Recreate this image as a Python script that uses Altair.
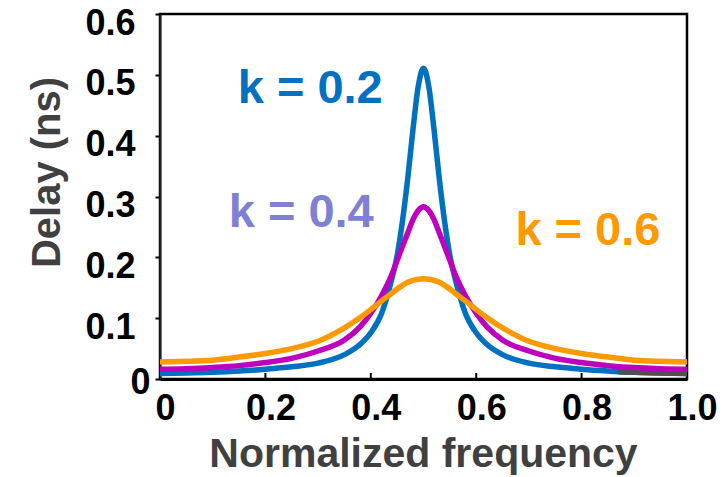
import altair as alt
import pandas as pd

# ---- data ----
freq = [0, 0.05, 0.1, 0.15, 0.2, 0.25, 0.3, 0.35, 0.38, 0.4, 0.42, 0.44, 0.45, 0.46,
        0.47, 0.48, 0.49, 0.5, 0.51, 0.52, 0.53, 0.54, 0.55, 0.56, 0.58, 0.6, 0.62,
        0.65, 0.7, 0.75, 0.8, 0.85, 0.87, 0.9, 0.95, 1.0]

delay_k02 = [0.009, 0.010, 0.011, 0.013, 0.016, 0.020, 0.026, 0.040, 0.057, 0.076,
             0.107, 0.165, 0.203, 0.259, 0.329, 0.410, 0.481, 0.511,
             0.481, 0.410, 0.329, 0.259, 0.203, 0.165, 0.107, 0.076, 0.057, 0.040,
             0.026, 0.020, 0.016, 0.013, 0.012, 0.011, 0.010, 0.009]

delay_k04 = [0.016, 0.017, 0.019, 0.022, 0.027, 0.034, 0.046, 0.064, 0.086, 0.108,
             0.136, 0.172, 0.195, 0.218, 0.240, 0.262, 0.277, 0.283,
             0.277, 0.262, 0.240, 0.218, 0.195, 0.172, 0.136, 0.108, 0.086, 0.064,
             0.046, 0.034, 0.027, 0.022, 0.020, 0.019, 0.017, 0.016]

delay_k06 = [0.028, 0.029, 0.031, 0.036, 0.042, 0.050, 0.062, 0.084, 0.101, 0.114,
             0.128, 0.141, 0.148, 0.154, 0.159, 0.162, 0.164, 0.165,
             0.164, 0.162, 0.159, 0.154, 0.148, 0.141, 0.128, 0.114, 0.101, 0.084,
             0.062, 0.050, 0.042, 0.036, 0.034, 0.031, 0.029, 0.028]

series_names = ["k = 0.2", "k = 0.4", "k = 0.6"]
series_colors = ["#0070C0", "#BE00BE", "#FF9900"]
label_colors = ["#0070C0", "#7F7FD5", "#FF9900"]

# annotation anchors (data coordinates)
label_x = [0.285, 0.268, 0.812]
label_y = [0.454, 0.250, 0.221]

x_ticks = [0, 0.2, 0.4, 0.6, 0.8, 1.0]
y_ticks = [0, 0.1, 0.2, 0.3, 0.4, 0.5, 0.6]
inner_ticks = [0.2, 0.4, 0.6, 0.8]

df = pd.DataFrame({
    "freq": freq * 3,
    "delay": delay_k02 + delay_k04 + delay_k06,
    "series": [series_names[0]] * len(freq) + [series_names[1]] * len(freq)
              + [series_names[2]] * len(freq),
})
ann = pd.DataFrame({"freq": label_x, "delay": label_y, "text": series_names,
                    "color": label_colors})
tickdf = pd.DataFrame({"freq": inner_ticks})

FONT = "Liberation Sans"
W, H = 527, 365

xenc = alt.X(
    "freq:Q",
    scale=alt.Scale(domain=[0, 1], nice=False, zero=False),
    axis=alt.Axis(
        values=x_ticks,
        labelExpr="datum.value == 0 ? '0' : format(datum.value, '.1f')",
        ticks=False, grid=False,
        domainColor="black", domainWidth=3,
        labelFont=FONT, labelFontSize=36, labelFontWeight="bold", labelColor="black",
        labelPadding=12, labelOffset=5, labelAlign="center", labelBaseline="top",
        labelFlush=False, labelOverlap=False,
        title="Normalized frequency",
        titleFont=FONT, titleFontSize=41, titleFontWeight="bold", titleColor="#404040",
        titleX=263, titleY=87, titleAlign="center", titleBaseline="alphabetic",
    ),
)
yenc = alt.Y(
    "delay:Q",
    scale=alt.Scale(domain=[0, 0.6], nice=False),
    axis=alt.Axis(
        values=y_ticks,
        labelExpr="datum.value == 0 ? '0' : format(datum.value, '.1f')",
        grid=False, ticks=True, tickSize=5, tickColor="black", tickWidth=2,
        domainColor="#222222", domainWidth=2,
        labelFont=FONT, labelFontSize=36, labelFontWeight="bold", labelColor="black",
        labelPadding={"condition": {"test": "datum.value == 0", "value": 5}, "value": 20},
        labelOffset={"condition": {"test": "datum.value == 0", "value": 3}, "value": 9},
        labelAlign="right", labelBaseline="middle",
        labelFlush=False, labelOverlap=False,
        title="Delay (ns)",
        titleFont=FONT, titleFontSize=40, titleFontWeight="bold", titleColor="#404040",
        titleAngle=-90, titleX=-101, titleY=158, titleAlign="center",
        titleBaseline="alphabetic",
    ),
)

layers = []
for name, col in zip(series_names, series_colors):
    layers.append(
        alt.Chart(df).transform_filter(alt.datum.series == name)
        .mark_line(strokeWidth=5.5, color=col, interpolate="monotone", strokeCap="butt")
        .encode(x=xenc, y=yenc)
    )
    if name == series_names[0]:
        # dark-grey tail at the far right of the k = 0.2 curve
        layers.append(
            alt.Chart(df).transform_filter(
                (alt.datum.series == name) & (alt.datum.freq >= 0.87))
            .mark_line(strokeWidth=5.5, color="#505050", interpolate="monotone",
                       strokeCap="butt")
            .encode(x=xenc, y=yenc)
        )

ticks_layer = alt.Chart(tickdf).mark_rule(color="black", strokeWidth=2).encode(
    x=xenc, y=alt.value(H), y2=alt.value(H - 6)
)

text_layer = alt.Chart(ann).mark_text(
    font=FONT, fontSize=47, fontWeight="bold", align="center", baseline="alphabetic"
).encode(x=xenc, y=yenc, text="text:N", color=alt.Color("color:N", scale=None))

chart = alt.layer(*layers, ticks_layer, text_layer).properties(
    width=W, height=H,
    autosize=alt.AutoSizeParams(type="none"),
    padding={"left": 160, "top": 14, "right": 40, "bottom": 98},
).configure_view(stroke="black", strokeWidth=2.5)

chart.save("out.html", embed_options={"renderer": "svg", "actions": False})
